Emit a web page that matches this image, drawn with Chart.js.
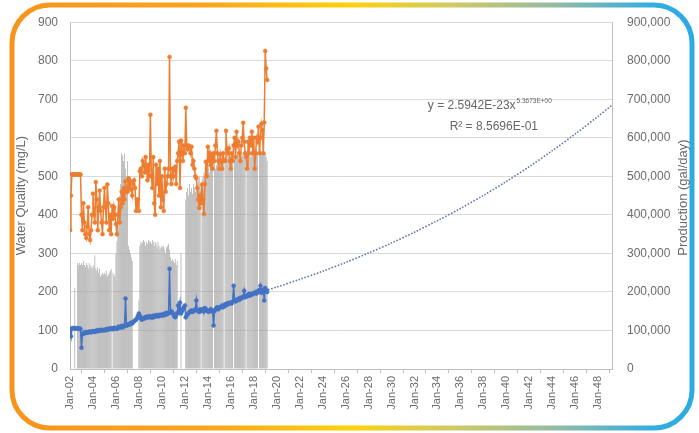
<!DOCTYPE html>
<html><head><meta charset="utf-8">
<script src="https://cdn.jsdelivr.net/npm/chart.js@4/dist/chart.umd.min.js"></script>
<style>html,body{margin:0;padding:0;background:#fff}canvas{display:block}</style>
</head><body>
<canvas id="c" width="699" height="433"></canvas>
<script>
// ---------- DATA (monthly, starting Jan 2002) ----------
const startYear = 2002;
const qualityOrange = [
 360,450,505,505,505,505,505,505,505,505,505,505,
 400,360,430,380,350,340,370,420,350,335,360,400,
 455,400,380,485,440,360,420,463,410,380,350,420,
 470,420,380,479,430,360,400,350,423,390,420,400,
 376,350,400,440,380,420,460,430,470,440,487,460,
 460,495,470,487,466,450,480,490,470,410,440,440,
 410,513,520,500,540,530,510,550,520,490,530,500,
 660,500,470,550,430,400,530,480,520,450,540,420,
 500,440,410,520,460,480,500,520,810,500,480,520,
 500,520,525,480,540,560,590,470,593,560,540,580,
 560,678,580,570,580,577,560,577,530,540,520,500,
 495,470,440,418,450,430,479,440,402,480,538,500,
 577,540,560,530,550,520,560,540,580,618,560,540,
 520,557,540,520,560,540,540,618,570,560,573,540,
 520,560,540,580,600,550,616,580,590,560,540,580,
 600,639,590,560,551,520,590,560,600,580,616,560,
 600,520,560,600,590,629,560,600,636,620,560,640,
 825,780,750
];
const qualityBlue = [
 95,85,105,106,106,105,106,105,106,104,105,104,
 55,90,92,95,93,96,94,95,97,96,95,98,
 97,98,96,99,100,98,101,99,100,102,100,101,
 100,102,104,101,103,105,103,106,104,103,107,105,
 106,104,108,110,107,109,112,108,110,113,183,112,
 114,116,115,118,120,118,122,124,126,128,132,138,
 144,138,132,128,130,133,131,134,136,133,135,137,
 134,136,133,138,135,139,137,140,136,139,141,138,
 140,142,139,144,141,146,143,145,260,147,150,146,
 142,136,134,140,145,165,150,172,144,150,155,160,
 165,134,140,142,145,148,150,152,148,150,152,155,
 178,152,150,148,155,150,153,156,150,158,155,152,
 150,148,152,155,150,152,113,150,155,158,160,155,
 158,160,162,165,160,163,168,165,170,168,172,170,
 172,170,175,216,178,175,180,178,182,180,185,183,
 185,188,203,186,190,188,192,195,190,193,196,194,
 195,198,200,196,202,200,205,216,198,204,206,178,
 210,205,200
];
// production, thousand gal/day
const productionK = [
 240,0,0,0,0,210,0,0,275,270,275,270,
 275,270,280,270,265,275,270,260,275,265,270,260,
 265,270,295,260,255,265,250,260,240,245,250,245,
 250,245,255,240,245,250,255,260,0,250,245,240,
 300,330,360,400,450,480,560,555,540,560,520,480,
 540,320,310,300,290,280,0,0,0,0,0,0,
 178,320,330,325,330,335,330,320,330,325,335,330,
 330,325,335,330,320,330,325,315,330,320,310,315,
 320,315,320,310,300,315,320,325,310,290,280,285,
 280,275,285,270,280,0,0,0,300,0,0,0,
 0,440,460,470,450,480,460,470,455,480,470,460,
 480,470,490,500,480,0,490,500,510,490,500,520,
 520,530,510,540,520,530,0,540,520,530,540,525,
 540,550,545,555,540,0,550,555,545,560,550,540,
 550,560,540,0,555,560,550,565,555,545,560,550,
 555,560,550,565,0,560,570,555,560,550,565,560,
 560,550,565,570,560,0,555,570,565,560,575,560,
 560,550,540
];
// power trendline (decimal year, mg/L)
const trendYears  = [2019.25,2020,2022,2024,2026,2028,2030,2032,2034,2036,2038,2040,2042,2044,2046,2048,2049.2];
const trendValues = [205.6,212.7,232.5,253.6,276.4,300.9,327,355,385,416.6,450.5,486.7,525.3,566.5,610,656,685];
const xTickYears = [2002,2004,2006,2008,2010,2012,2014,2016,2018,2020,2022,2024,2026,2028,2030,2032,2034,2036,2038,2040,2042,2044,2046,2048];
const leftTicks = [0,100,200,300,400,500,600,700,800,900];
const rightTicks = [0,100000,200000,300000,400000,500000,600000,700000,800000,900000];
const leftTitle = 'Water Quality (mg/L)';
const rightTitle = 'Production (gal/day)';
const equationText = 'y = 2.5942E-23x';
const equationExp = '5.3673E+00';
const r2Text = 'R\u00B2 = 8.5696E-01';

// ---------- build ----------
const monthX = i => startYear + i / 12;
const orangePts = qualityOrange.map((v,i)=>({x:monthX(i), y:v}));
const bluePts = qualityBlue.map((v,i)=>({x:monthX(i), y:v}));
const prodPts = productionK.map((v,i)=>({x:monthX(i), y:v*1000}));
const trendPts = trendYears.map((x,i)=>({x, y:trendValues[i]}));

const FONT = 'Liberation Sans';
const TXT = '#6b6b6b';

const framePlugin = {
  id:'frame',
  beforeDraw(chart){
    const ctx = chart.ctx;
    ctx.save();
    ctx.fillStyle = '#fff';
    ctx.fillRect(0,0,chart.width,chart.height);
    const g = ctx.createLinearGradient(0,0,chart.width,0);
    g.addColorStop(0,'#f7931e');
    g.addColorStop(0.3,'#f9a61c');
    g.addColorStop(0.5,'#fdd20a');
    g.addColorStop(0.65,'#cfc965');
    g.addColorStop(0.8,'#90bba5');
    g.addColorStop(0.93,'#36ade0');
    g.addColorStop(1,'#29abe2');
    ctx.strokeStyle = g;
    ctx.lineWidth = 5;
    ctx.beginPath();
    ctx.roundRect(12,5,680,423,38);
    ctx.stroke();
    ctx.restore();
  }
};

const textPlugin = {
  id:'texts',
  afterDatasetsDraw(chart){
    const ctx = chart.ctx, sx = chart.scales.x, sy = chart.scales.y, ca = chart.chartArea;
    const cx = sx.getPixelForValue(2038.56);
    const y1 = sy.getPixelForValue(675), y2 = sy.getPixelForValue(619);
    ctx.save();
    ctx.fillStyle = '#666';
    ctx.textBaseline = 'alphabetic';
    ctx.font = '12px "' + FONT + '"';
    const w1 = ctx.measureText(equationText).width;
    ctx.font = '6.5px "' + FONT + '"';
    const w2 = ctx.measureText(equationExp).width;
    const x0 = cx - (w1 + w2 + 1) / 2;
    ctx.font = '12px "' + FONT + '"';
    ctx.textAlign = 'left';
    ctx.fillText(equationText, x0, y1);
    ctx.font = '6.5px "' + FONT + '"';
    ctx.fillText(equationExp, x0 + w1 + 1, y1 - 6);
    ctx.font = '12px "' + FONT + '"';
    ctx.textAlign = 'center';
    ctx.fillText(r2Text, cx + 4, y2);
    // right axis title, reading bottom-to-top
    ctx.fillStyle = TXT;
    ctx.font = '13px "' + FONT + '"';
    ctx.textBaseline = 'middle';
    ctx.translate(ca.right + 71, (ca.top + ca.bottom) / 2 + 2);
    ctx.rotate(-Math.PI / 2);
    ctx.fillText(rightTitle, 0, 0);
    ctx.restore();
  }
};

new Chart(document.getElementById('c'), {
  type:'line',
  data:{
    datasets:[
      {type:'line', label:'Water Quality A', data:orangePts, yAxisID:'y', order:1,
       borderColor:'#ed7d31', backgroundColor:'#ed7d31', borderWidth:1.5,
       pointRadius:2, pointBorderWidth:0.5, pointBackgroundColor:'#ed7d31', tension:0},
      {type:'line', label:'Water Quality B', data:bluePts, yAxisID:'y', order:0,
       borderColor:'#4472c4', backgroundColor:'#4472c4', borderWidth:1.5,
       pointRadius:2, pointBorderWidth:0.5, pointBackgroundColor:'#4472c4', tension:0},
      {type:'line', label:'Trend', data:trendPts, yAxisID:'y', order:2,
       borderColor:'#6478a8', borderWidth:1.6, borderDash:[1.6,1.6], pointRadius:0, tension:0.3, fill:false},
      {type:'bar', label:'Production', data:prodPts, yAxisID:'y2', order:3,
       backgroundColor:'#a5a5a5', borderWidth:0, barPercentage:0.72, categoryPercentage:1, grouped:false}
    ]
  },
  options:{
    responsive:false, animation:false, devicePixelRatio:1,
    layout:{padding:{top:20,left:0,right:0,bottom:0}},
    plugins:{legend:{display:false}, tooltip:{enabled:false}},
    scales:{
      x:{type:'linear', min:2002, max:2049.2, offset:false,
        grid:{drawOnChartArea:false, drawTicks:true, tickLength:4, color:'#bfbfbf'},
        border:{color:'#bfbfbf'},
        ticks:{autoSkip:false, maxRotation:90, minRotation:90, padding:3, color:TXT,
          font:{size:11, family:FONT},
          callback:v=>'Jan-'+String(Math.round(v)%100).padStart(2,'0')},
        afterBuildTicks:s=>{ s.ticks = xTickYears.map(v=>({value:v})); },
        afterFit:s=>{ s.height = 64; }
      },
      y:{position:'left', min:0, max:900,
        grid:{color:'#d9d9d9', drawTicks:false},
        border:{color:'#bfbfbf'},
        ticks:{padding:12, color:TXT, font:{size:12, family:FONT}},
        afterBuildTicks:s=>{ s.ticks = leftTicks.map(v=>({value:v})); },
        title:{display:true, text:leftTitle, color:TXT, font:{size:13, family:FONT}, padding:{top:14,bottom:0}},
        afterFit:s=>{ s.width = 70; }
      },
      y2:{position:'right', min:0, max:900000,
        grid:{drawOnChartArea:false, drawTicks:false},
        border:{color:'#bfbfbf'},
        ticks:{padding:15, color:TXT, font:{size:12, family:FONT},
          callback:v=>v.toLocaleString('en-US')},
        afterBuildTicks:s=>{ s.ticks = rightTicks.map(v=>({value:v})); },
        afterFit:s=>{ s.width = 87; }
      }
    }
  },
  plugins:[framePlugin, textPlugin]
});
</script>
</body></html>
